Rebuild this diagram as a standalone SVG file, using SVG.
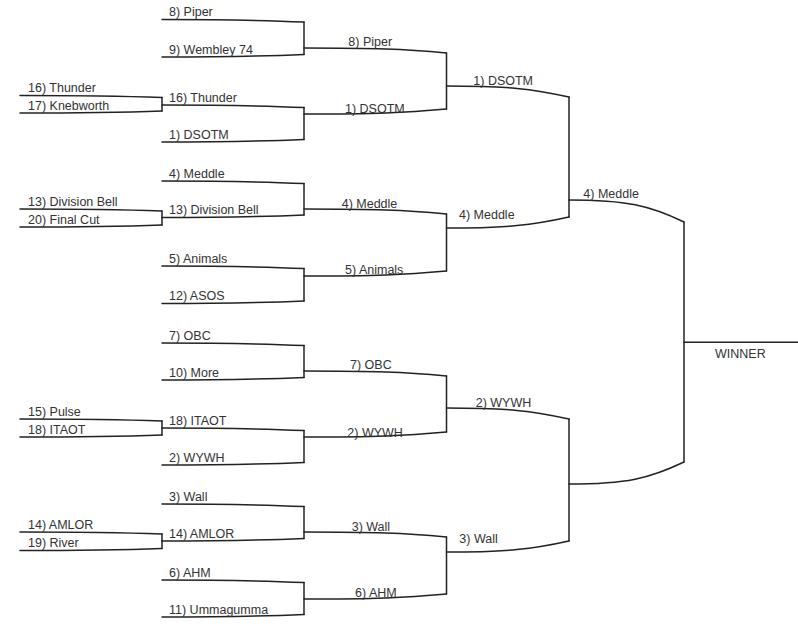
<svg xmlns="http://www.w3.org/2000/svg" width="798" height="627" viewBox="0 0 798 627">
<style>
.ln{fill:none;stroke:#222;stroke-width:1.5;stroke-linecap:round}
.t{font-family:"Liberation Sans",Arial,sans-serif;font-size:12.5px;fill:#333}
</style>
<rect width="798" height="627" fill="#fff"/>
<g id="connectors" class="ln">
<path d="M162,97.5V111"/>
<path d="M162,211V225"/>
<path d="M162,421V435"/>
<path d="M162,534V548.5"/>
<path d="M304,22V54.5"/>
<path d="M304,107.5V139.5"/>
<path d="M304,183.5V215"/>
<path d="M304,268.5V301"/>
<path d="M304,345.5V377.5"/>
<path d="M304,430.5V462.5"/>
<path d="M304,506.5V538.5"/>
<path d="M304,582.5V614.5"/>
<path d="M446.5,53V109"/>
<path d="M446.5,214V271"/>
<path d="M446.5,376V432"/>
<path d="M446.5,537V594"/>
<path d="M569,97V217"/>
<path d="M569,419V541"/>
<path d="M684,222V462"/>
</g>
<!-- round 0 -->
<g id="r0-thunder"><path class="ln" d="M20,95.5C91,95.5 119.4,96 162,97.5"/><text class="t" x="28" y="92">16) Thunder</text></g>
<g id="r0-knebworth"><path class="ln" d="M20,113C91,113 119.4,112.5 162,111"/><text class="t" x="28" y="109.5">17) Knebworth</text></g>
<g id="r0-divisionbell"><path class="ln" d="M20,209C91,209 119.4,209.5 162,211"/><text class="t" x="28" y="205.5">13) Division Bell</text></g>
<g id="r0-finalcut"><path class="ln" d="M20,227C91,227 119.4,226.5 162,225"/><text class="t" x="28" y="223.5">20) Final Cut</text></g>
<g id="r0-pulse"><path class="ln" d="M20,419C91,419 119.4,419.5 162,421"/><text class="t" x="28" y="415.5">15) Pulse</text></g>
<g id="r0-itaot"><path class="ln" d="M20,437C91,437 119.4,436.5 162,435"/><text class="t" x="28" y="433.5">18) ITAOT</text></g>
<g id="r0-amlor"><path class="ln" d="M20,532C91,532 119.4,532.5 162,534"/><text class="t" x="28" y="528.5">14) AMLOR</text></g>
<g id="r0-river"><path class="ln" d="M20,550.5C91,550.5 119.4,550 162,548.5"/><text class="t" x="28" y="547">19) River</text></g>
<!-- round 1 -->
<g id="r1-piper"><path class="ln" d="M162,19.5C233,19.5 261.4,20.1 304,22"/><text class="t" x="169" y="16">8) Piper</text></g>
<g id="r1-wembley"><path class="ln" d="M162,57C233,57 261.4,56.4 304,54.5"/><text class="t" x="169" y="53.5">9) Wembley 74</text></g>
<g id="r1-thunder"><path class="ln" d="M162,105C233,105 261.4,105.6 304,107.5"/><text class="t" x="169" y="101.5">16) Thunder</text></g>
<g id="r1-dsotm"><path class="ln" d="M162,142C233,142 261.4,141.4 304,139.5"/><text class="t" x="169" y="138.5">1) DSOTM</text></g>
<g id="r1-meddle"><path class="ln" d="M162,181C233,181 261.4,181.6 304,183.5"/><text class="t" x="169" y="177.5">4) Meddle</text></g>
<g id="r1-divisionbell"><path class="ln" d="M162,217.5C233,217.5 261.4,216.9 304,215"/><text class="t" x="169" y="214">13) Division Bell</text></g>
<g id="r1-animals"><path class="ln" d="M162,266C233,266 261.4,266.6 304,268.5"/><text class="t" x="169" y="262.5">5) Animals</text></g>
<g id="r1-asos"><path class="ln" d="M162,303.5C233,303.5 261.4,302.9 304,301"/><text class="t" x="169" y="300">12) ASOS</text></g>
<g id="r1-obc"><path class="ln" d="M162,343C233,343 261.4,343.6 304,345.5"/><text class="t" x="169" y="339.5">7) OBC</text></g>
<g id="r1-more"><path class="ln" d="M162,380C233,380 261.4,379.4 304,377.5"/><text class="t" x="169" y="376.5">10) More</text></g>
<g id="r1-itaot"><path class="ln" d="M162,428C233,428 261.4,428.6 304,430.5"/><text class="t" x="169" y="424.5">18) ITAOT</text></g>
<g id="r1-wywh"><path class="ln" d="M162,465C233,465 261.4,464.4 304,462.5"/><text class="t" x="169" y="461.5">2) WYWH</text></g>
<g id="r1-wall"><path class="ln" d="M162,504C233,504 261.4,504.6 304,506.5"/><text class="t" x="169" y="500.5">3) Wall</text></g>
<g id="r1-amlor"><path class="ln" d="M162,541C233,541 261.4,540.4 304,538.5"/><text class="t" x="169" y="537.5">14) AMLOR</text></g>
<g id="r1-ahm"><path class="ln" d="M162,580C233,580 261.4,580.6 304,582.5"/><text class="t" x="169" y="576.5">6) AHM</text></g>
<g id="r1-ummagumma"><path class="ln" d="M162,617C233,617 261.4,616.4 304,614.5"/><text class="t" x="169" y="613.5">11) Ummagumma</text></g>
<!-- round 2 -->
<g id="r2-piper"><path class="ln" d="M304,48C375,48 403.8,49.2 446.5,53"/><text class="t" x="348.3" y="46">8) Piper</text></g>
<g id="r2-dsotm"><path class="ln" d="M304,114C375,114 403.8,112.8 446.5,109"/><text class="t" x="345" y="113">1) DSOTM</text></g>
<g id="r2-meddle"><path class="ln" d="M304,209C375,209 403.8,210.2 446.5,214"/><text class="t" x="341.7" y="208.3">4) Meddle</text></g>
<g id="r2-animals"><path class="ln" d="M304,276C375,276 403.8,274.8 446.5,271"/><text class="t" x="345" y="274.3">5) Animals</text></g>
<g id="r2-obc"><path class="ln" d="M304,371C375,371 403.8,372.2 446.5,376"/><text class="t" x="350" y="369.3">7) OBC</text></g>
<g id="r2-wywh"><path class="ln" d="M304,437C375,437 403.8,435.8 446.5,432"/><text class="t" x="347.3" y="436.7">2) WYWH</text></g>
<g id="r2-wall"><path class="ln" d="M304,532C375,532 403.8,533.2 446.5,537"/><text class="t" x="351.7" y="531">3) Wall</text></g>
<g id="r2-ahm"><path class="ln" d="M304,599C375,599 403.8,597.8 446.5,594"/><text class="t" x="355" y="596.7">6) AHM</text></g>
<!-- round 3 -->
<g id="r3-dsotm"><path class="ln" d="M446.5,86C507.7,86 532.2,88.8 569,97"/><text class="t" x="473.3" y="85">1) DSOTM</text></g>
<g id="r3-meddle"><path class="ln" d="M446.5,228C507.7,228 532.2,225.2 569,217"/><text class="t" x="459" y="219">4) Meddle</text></g>
<g id="r3-wywh"><path class="ln" d="M446.5,408C507.7,408 532.2,410.8 569,419"/><text class="t" x="475.7" y="407.3">2) WYWH</text></g>
<g id="r3-wall"><path class="ln" d="M446.5,552C507.7,552 532.2,549.2 569,541"/><text class="t" x="459.3" y="543.3">3) Wall</text></g>
<!-- round 4 -->
<g id="r4-meddle"><path class="ln" d="M569,200C626.5,200 649.5,205.5 684,222"/><text class="t" x="583.3" y="198.3">4) Meddle</text></g>
<g id="r4-bottom"><path class="ln" d="M569,484C626.5,484 649.5,478.5 684,462"/></g>
<!-- winner -->
<g id="winner"><path class="ln" d="M684,342.3H798"/><text class="t" x="715" y="357.7">WINNER</text></g>
</svg>
